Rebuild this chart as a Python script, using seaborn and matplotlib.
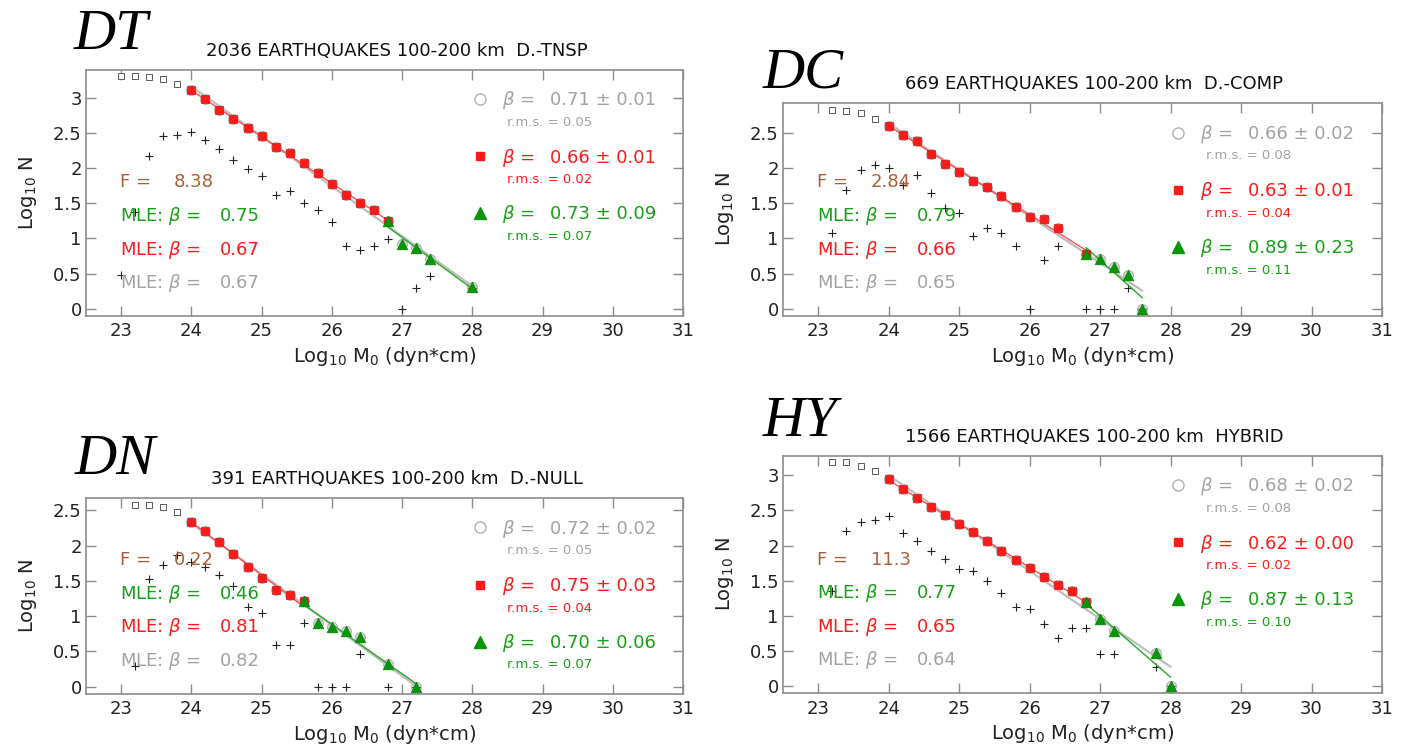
import numpy as np
import matplotlib
matplotlib.use("Agg")
import matplotlib.pyplot as plt
from matplotlib.ticker import FuncFormatter, FixedLocator
import seaborn as sns

# ---------------------------------------------------------------------------
# Cumulative (log10 N) frequency-moment data, 100-200 km depth, per mechanism
# ---------------------------------------------------------------------------
panel_keys = ["DT", "DC", "DN", "HY"]
panel_titles = ["2036 EARTHQUAKES 100-200 km  D.-TNSP",
                "669 EARTHQUAKES 100-200 km  D.-COMP",
                "391 EARTHQUAKES 100-200 km  D.-NULL",
                "1566 EARTHQUAKES 100-200 km  HYBRID"]
y_tops = [3.40, 2.92, 2.68, 3.28]

# open squares: cumulative counts below the fitting range
dt_open_x = [23.0, 23.2, 23.4, 23.6, 23.8]
dt_open_y = [3.31, 3.31, 3.30, 3.27, 3.19]
dc_open_x = [23.2, 23.4, 23.6, 23.8]
dc_open_y = [2.82, 2.81, 2.78, 2.70]
dn_open_x = [23.2, 23.4, 23.6, 23.8]
dn_open_y = [2.58, 2.58, 2.54, 2.47]
hy_open_x = [23.2, 23.4, 23.6, 23.8]
hy_open_y = [3.19, 3.19, 3.13, 3.06]

# red squares: lower-moment fitting branch
dt_red_x = [24.0, 24.2, 24.4, 24.6, 24.8, 25.0, 25.2, 25.4, 25.6, 25.8, 26.0, 26.2, 26.4, 26.6, 26.8]
dt_red_y = [3.11, 2.98, 2.83, 2.70, 2.57, 2.45, 2.30, 2.21, 2.07, 1.93, 1.77, 1.61, 1.51, 1.41, 1.25]
dc_red_x = [24.0, 24.2, 24.4, 24.6, 24.8, 25.0, 25.2, 25.4, 25.6, 25.8, 26.0, 26.2, 26.4, 26.8]
dc_red_y = [2.60, 2.47, 2.38, 2.20, 2.06, 1.94, 1.81, 1.73, 1.60, 1.45, 1.30, 1.28, 1.14, 0.78]
dn_red_x = [24.0, 24.2, 24.4, 24.6, 24.8, 25.0, 25.2, 25.4, 25.6]
dn_red_y = [2.34, 2.21, 2.05, 1.88, 1.69, 1.54, 1.37, 1.30, 1.21]
hy_red_x = [24.0, 24.2, 24.4, 24.6, 24.8, 25.0, 25.2, 25.4, 25.6, 25.8, 26.0, 26.2, 26.4, 26.6, 26.8]
hy_red_y = [2.95, 2.80, 2.68, 2.55, 2.43, 2.31, 2.20, 2.06, 1.92, 1.79, 1.68, 1.55, 1.44, 1.36, 1.20]

# green triangles: upper-moment fitting branch
dt_grn_x = [26.8, 27.0, 27.2, 27.4, 28.0]
dt_grn_y = [1.25, 0.92, 0.86, 0.71, 0.31]
dc_grn_x = [26.8, 27.0, 27.2, 27.4, 27.6]
dc_grn_y = [0.78, 0.70, 0.60, 0.48, 0.00]
dn_grn_x = [25.6, 25.8, 26.0, 26.2, 26.4, 26.8, 27.2]
dn_grn_y = [1.21, 0.91, 0.85, 0.79, 0.71, 0.32, 0.00]
hy_grn_x = [26.8, 27.0, 27.2, 27.8, 28.0]
hy_grn_y = [1.20, 0.96, 0.79, 0.48, 0.00]

# crosses: incremental (per-bin) counts
dt_inc_x = [23.0, 23.2, 23.4, 23.6, 23.8, 24.0, 24.2, 24.4, 24.6, 24.8, 25.0, 25.2,
            25.4, 25.6, 25.8, 26.0, 26.2, 26.4, 26.6, 26.8, 27.0, 27.2, 27.4, 28.0]
dt_inc_y = [0.48, 1.38, 2.17, 2.45, 2.47, 2.51, 2.40, 2.27, 2.12, 1.98, 1.88, 1.62,
            1.67, 1.50, 1.41, 1.23, 0.89, 0.84, 0.89, 0.99, 0.00, 0.29, 0.47, 0.30]
dc_inc_x = [23.2, 23.4, 23.6, 23.8, 24.0, 24.2, 24.4, 24.6, 24.8, 25.0, 25.2,
            25.4, 25.6, 25.8, 26.0, 26.2, 26.4, 26.8, 27.0, 27.2, 27.4, 27.6]
dc_inc_y = [1.08, 1.68, 1.97, 2.04, 2.00, 1.76, 1.90, 1.65, 1.43, 1.36, 1.03,
            1.14, 1.07, 0.89, 0.00, 0.69, 0.89, 0.00, 0.00, 0.00, 0.29, 0.00]
dn_inc_x = [23.2, 23.4, 23.6, 23.8, 24.0, 24.2, 24.4, 24.6, 24.8, 25.0,
            25.2, 25.4, 25.6, 25.8, 26.0, 26.2, 26.4, 26.8, 27.2]
dn_inc_y = [0.29, 1.53, 1.73, 1.86, 1.77, 1.70, 1.58, 1.42, 1.13, 1.04,
            0.59, 0.59, 0.90, 0.00, 0.00, 0.00, 0.47, 0.00, 0.00]
hy_inc_x = [23.2, 23.4, 23.6, 23.8, 24.0, 24.2, 24.4, 24.6, 24.8, 25.0, 25.2, 25.4,
            25.6, 25.8, 26.0, 26.2, 26.4, 26.6, 26.8, 27.0, 27.2, 27.8, 28.0]
hy_inc_y = [1.36, 2.21, 2.33, 2.36, 2.42, 2.18, 2.06, 1.93, 1.81, 1.67, 1.64, 1.50,
            1.33, 1.13, 1.10, 0.89, 0.69, 0.83, 0.83, 0.46, 0.46, 0.28, 0.00]

# fitted slopes (beta), their errors and r.m.s. misfits: [all, lower, upper]
dt_beta = [0.71, 0.66, 0.73]; dt_err = [0.01, 0.01, 0.09]; dt_rms = [0.05, 0.02, 0.07]
dc_beta = [0.66, 0.63, 0.89]; dc_err = [0.02, 0.01, 0.23]; dc_rms = [0.08, 0.04, 0.11]
dn_beta = [0.72, 0.75, 0.70]; dn_err = [0.02, 0.03, 0.06]; dn_rms = [0.05, 0.04, 0.07]
hy_beta = [0.68, 0.62, 0.87]; hy_err = [0.02, 0.00, 0.13]; hy_rms = [0.08, 0.02, 0.10]

# F statistic and maximum-likelihood betas: [upper, lower, all]
dt_f = 8.38; dt_mle = [0.75, 0.67, 0.67]
dc_f = 2.84; dc_mle = [0.79, 0.66, 0.65]
dn_f = 0.22; dn_mle = [0.46, 0.81, 0.82]
hy_f = 11.3; hy_mle = [0.77, 0.65, 0.64]

x_ticks = [23, 24, 25, 26, 27, 28, 29, 30, 31]
y_ticks = [0, 0.5, 1, 1.5, 2, 2.5, 3]

panels = {
    "DT": dict(open=(dt_open_x, dt_open_y), red=(dt_red_x, dt_red_y), grn=(dt_grn_x, dt_grn_y),
               inc=(dt_inc_x, dt_inc_y), beta=dt_beta, err=dt_err, rms=dt_rms, f=dt_f, mle=dt_mle),
    "DC": dict(open=(dc_open_x, dc_open_y), red=(dc_red_x, dc_red_y), grn=(dc_grn_x, dc_grn_y),
               inc=(dc_inc_x, dc_inc_y), beta=dc_beta, err=dc_err, rms=dc_rms, f=dc_f, mle=dc_mle),
    "DN": dict(open=(dn_open_x, dn_open_y), red=(dn_red_x, dn_red_y), grn=(dn_grn_x, dn_grn_y),
               inc=(dn_inc_x, dn_inc_y), beta=dn_beta, err=dn_err, rms=dn_rms, f=dn_f, mle=dn_mle),
    "HY": dict(open=(hy_open_x, hy_open_y), red=(hy_red_x, hy_red_y), grn=(hy_grn_x, hy_grn_y),
               inc=(hy_inc_x, hy_inc_y), beta=hy_beta, err=hy_err, rms=hy_rms, f=hy_f, mle=hy_mle),
}

# ---------------------------------------------------------------------------
sns.set_theme(style="white")
plt.rcParams["font.family"] = ["DejaVu Sans"]
plt.rcParams["mathtext.fontset"] = "dejavusans"

GRAY_T = "#a3a3a3"
RED = "#ff1a1a"
GREEN = "#16a016"
BROWN = "#a8603a"
SPINE = "#8c8c8c"

W, H = 1406, 748
fig = plt.figure(figsize=(W / 100, H / 100), dpi=100)

# pixel boxes (left, top, right, bottom) of each panel
boxes = {"DT": (86, 69.5, 683, 315.5), "DC": (783, 103, 1382, 315.5),
         "DN": (86, 497.5, 683, 693.5), "HY": (783, 455.5, 1382, 693)}
letter_pos = {"DT": (74, 49), "DC": (763, 88), "DN": (75, 474), "HY": (763, 436)}


def fit_line(xs, ys, beta):
    """Line of slope -beta through the centroid of the points."""
    xs = np.asarray(xs, float)
    ys = np.asarray(ys, float)
    a = ys.mean() + beta * xs.mean()
    xe = np.array([xs.min(), xs.max()])
    return xe, a - beta * xe


for key, title, ytop in zip(panel_keys, panel_titles, y_tops):
    d = panels[key]
    l, t, r, b = boxes[key]
    ax = fig.add_axes([l / W, 1 - b / H, (r - l) / W, (b - t) / H])
    ax.set_xlim(22.5, 31.0)
    ax.set_ylim(-0.095, ytop)

    rx, ry = d["red"]
    gx, gy = d["grn"]
    ax_all = sorted(set(rx) | set(gx))
    ay_all = [dict(zip(rx + gx, ry + gy))[v] for v in ax_all]

    # gray circles behind every fitted point
    sns.scatterplot(x=ax_all, y=ay_all, ax=ax, marker="o", s=52, color="#d4d4d4",
                    edgecolor="#b4b4b4", linewidth=0.8, zorder=2, legend=False)

    # fitted lines
    for xs, ys, beta, col, lw in [(ax_all, ay_all, d["beta"][0], "#bdbdbd", 1.6),
                                  (rx, ry, d["beta"][1], "#ff5050", 1.0),
                                  (gx, gy, d["beta"][2], "#2aa82a", 1.0)]:
        xe, ye = fit_line(xs, ys, beta)
        sns.lineplot(x=xe, y=ye, ax=ax, color=col, linewidth=lw, zorder=3, legend=False)

    sns.scatterplot(x=rx, y=ry, ax=ax, marker="s", s=28, color=RED,
                    edgecolor="#d00000", linewidth=0.4, zorder=4, legend=False)
    sns.scatterplot(x=gx, y=gy, ax=ax, marker="^", s=60, color="#079607",
                    edgecolor="#067a06", linewidth=0.4, zorder=5, legend=False)

    ox, oy = d["open"]
    sns.scatterplot(x=ox, y=oy, ax=ax, marker="s", s=22, facecolor="white",
                    edgecolor="#5a5a5a", linewidth=0.7, zorder=2, legend=False)
    ix, iy = d["inc"]
    ax.plot(ix, iy, linestyle="none", marker="+", markersize=5.5, markeredgewidth=0.8,
            color="#222222", zorder=2)

    # right-hand statistics block
    rows = [(0.42, GRAY_T, "o"), (1.235, RED, "s"), (2.04, GREEN, "^")]
    for (off, col, mk), beta, err, rms in zip(rows, d["beta"], d["err"], d["rms"]):
        yc = ytop - off
        if mk == "o":
            ax.plot([28.11], [yc], marker="o", markersize=8, markerfacecolor="white",
                    markeredgecolor="#b0b0b0", markeredgewidth=1.0, linestyle="none")
        elif mk == "s":
            ax.plot([28.11], [yc], marker="s", markersize=5.5, color=RED, linestyle="none")
        else:
            ax.plot([28.11], [yc], marker="^", markersize=8, color="#079607", linestyle="none")
        ax.text(28.42, yc - 0.09, r"$\beta$ =", color=col, fontsize=13, va="baseline")
        ax.text(29.10, yc - 0.09, f"{beta:.2f} \u00b1 {err:.2f}", color=col,
                fontsize=13, va="baseline")
        ax.text(28.50, yc - 0.32 - 0.06, f"r.m.s. = {rms:.2f}", color=col,
                fontsize=9.5, va="baseline")

    # left-hand F and MLE block
    ax.text(22.98, 1.82 - 0.09, "F =", color=BROWN, fontsize=13, va="baseline")
    ax.text(23.75, 1.82 - 0.09, f"{d['f']:.3g}", color=BROWN, fontsize=13, va="baseline")
    for yc, col, val in zip([1.34, 0.86, 0.39], [GREEN, RED, GRAY_T], d["mle"]):
        ax.text(22.98, yc - 0.09, r"MLE: $\beta$ =", color=col, fontsize=13, va="baseline")
        ax.text(24.40, yc - 0.09, f"{val:.2f}", color=col, fontsize=13, va="baseline")

    # axes styling
    ax.xaxis.set_major_locator(FixedLocator(x_ticks))
    ax.yaxis.set_major_locator(FixedLocator([v for v in y_ticks if v <= ytop]))
    ax.yaxis.set_major_formatter(FuncFormatter(lambda v, p: f"{v:g}"))
    ax.tick_params(axis="both", which="major", direction="in", length=7, width=1.0,
                   color=SPINE, labelsize=13, labelcolor="#222222",
                   top=True, right=True, bottom=True, left=True)
    ax.tick_params(axis="x", pad=5)
    ax.tick_params(axis="y", pad=3)
    for sp in ax.spines.values():
        sp.set_color(SPINE)
        sp.set_linewidth(1.2)
    ax.set_xlabel(r"Log$_{10}$ M$_0$ (dyn*cm)", fontsize=14, color="#222222", labelpad=3)
    ax.set_ylabel(r"Log$_{10}$ N", fontsize=14, color="#222222", labelpad=10)
    ax.set_title(title, fontsize=13, x=0.52, pad=10, color="#111111")
    ax.set_facecolor("white")

    lx, ly = letter_pos[key]
    fig.text(lx / W, 1 - ly / H, key, fontsize=42, family="Liberation Serif",
             style="italic", va="baseline", ha="left", color="black")

fig.savefig("out.png", dpi=100, facecolor="white")
